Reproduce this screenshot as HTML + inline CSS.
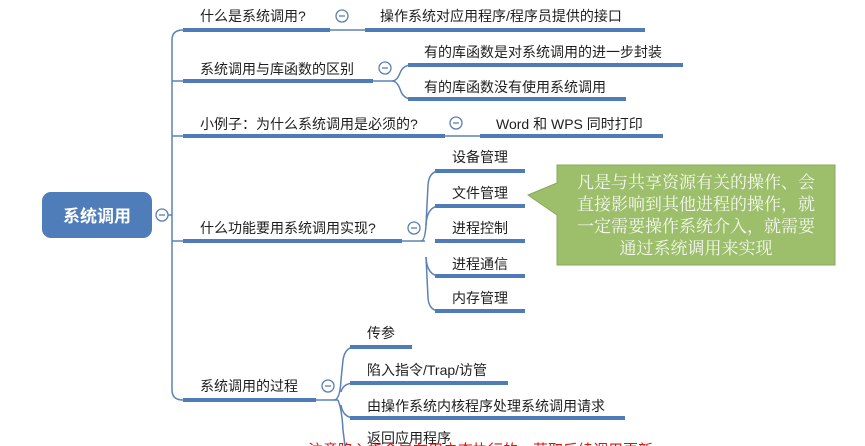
<!DOCTYPE html>
<html><head><meta charset="utf-8"><style>
html,body{margin:0;padding:0;background:#fff;height:446px;overflow:hidden;}
body{width:865px;position:relative;font-family:"Liberation Sans","Noto Sans CJK SC",sans-serif;}
.t{position:absolute;font-size:14px;color:#1e1e1e;white-space:nowrap;line-height:16px;}
</style></head><body>
<svg width="865" height="446" style="position:absolute;left:0;top:0">
<g fill="none" stroke="#5b82b5" stroke-width="1.5">
<path d="M165,215 H172"/>
<path d="M183,30 Q172,30 172,40 V390 Q172,400 183,400"/>
<path d="M172,81 Q172,81 183,81"/>
<path d="M172,136 H183"/>
<path d="M172,241 H183"/>
<path d="M330,30 H365"/>
<path d="M373,81 H392 Q397,81 400,73 Q403,65 412,65"/>
<path d="M392,81 Q397,81 400,89 Q403,99 412,99"/>
<path d="M445,136 H480"/>
<path d="M402,241 H425"/>
<path d="M421,241 Q425,241 426,225 L428,185 Q429,171 440,171"/>
<path d="M426,225 Q427,206 440,206"/>
<path d="M426,257 Q427,276 440,276"/>
<path d="M426,257 L428,298 Q429,311 440,311"/>
<path d="M316,400 H338"/>
<path d="M334,400 Q340,400 341,380 L343,360 Q345,347 355,347"/>
<path d="M341,392 Q343,383 355,383"/>
<path d="M341,405 Q343,418 355,418"/>
<path d="M338,400 Q342,410 343,430 L345,446"/>
</g>
<g stroke="#4f7cb8" stroke-width="4" stroke-linecap="butt">
<line x1="183" y1="30" x2="330" y2="30"/>
<line x1="365" y1="30" x2="645" y2="30"/>
<line x1="183" y1="81" x2="373" y2="81"/>
<line x1="408" y1="65" x2="683" y2="65"/>
<line x1="408" y1="99" x2="626" y2="99"/>
<line x1="183" y1="136" x2="445" y2="136"/>
<line x1="480" y1="136" x2="663" y2="136"/>
<line x1="183" y1="241" x2="402" y2="241"/>
<line x1="435" y1="171" x2="525" y2="171"/>
<line x1="435" y1="206" x2="525" y2="206"/>
<line x1="435" y1="241" x2="525" y2="241"/>
<line x1="435" y1="276" x2="525" y2="276"/>
<line x1="435" y1="311" x2="525" y2="311"/>
<line x1="183" y1="400" x2="316" y2="400"/>
<line x1="350" y1="347" x2="412" y2="347"/>
<line x1="350" y1="383" x2="508" y2="383"/>
<line x1="350" y1="418" x2="625" y2="418"/>
</g>
<g fill="#fff" stroke="#5b7fae" stroke-width="1.3">
<circle cx="162" cy="215" r="6"/>
<circle cx="342" cy="16" r="6"/>
<circle cx="385" cy="68" r="6"/>
<circle cx="456" cy="123" r="6"/>
<circle cx="414" cy="228" r="6"/>
<circle cx="328" cy="386" r="6"/>
</g>
<g stroke="#5b7fae" stroke-width="1.3">
<line x1="159" y1="215" x2="165" y2="215"/>
<line x1="339" y1="16" x2="345" y2="16"/>
<line x1="382" y1="68" x2="388" y2="68"/>
<line x1="453" y1="123" x2="459" y2="123"/>
<line x1="411" y1="228" x2="417" y2="228"/>
<line x1="325" y1="386" x2="331" y2="386"/>
</g>
<rect x="42" y="192" width="110" height="46" rx="9" fill="#4e7db9"/>
<text x="97" y="222" fill="#fff" font-size="17" font-weight="bold" text-anchor="middle" font-family="Liberation Sans, Noto Sans CJK SC, sans-serif">系统调用</text>
<polygon points="557,165 835,165 835,265 557,265 557,215 528,195 557,183" fill="#9dbf6c" stroke="#86a85a" stroke-width="1"/>
</svg>
<div style="position:absolute;left:560px;top:172px;width:272px;text-align:center;font-family:'Liberation Serif','Noto Serif CJK SC',serif;font-size:17px;line-height:22px;color:#f4f8ee;">凡是与共享资源有关的操作、会<br>直接影响到其他进程的操作，就<br>一定需要操作系统介入，就需要<br>通过系统调用来实现</div>
<div class="t" style="left:200px;top:8px">什么是系统调用?</div>
<div class="t" style="left:380px;top:8px">操作系统对应用程序/程序员提供的接口</div>
<div class="t" style="left:200px;top:61px">系统调用与库函数的区别</div>
<div class="t" style="left:424px;top:44px">有的库函数是对系统调用的进一步封装</div>
<div class="t" style="left:424px;top:79px">有的库函数没有使用系统调用</div>
<div class="t" style="left:200px;top:116px">小例子：为什么系统调用是必须的?</div>
<div class="t" style="left:496px;top:116px">Word 和 WPS 同时打印</div>
<div class="t" style="left:200px;top:220px">什么功能要用系统调用实现?</div>
<div class="t" style="left:452px;top:149px">设备管理</div>
<div class="t" style="left:452px;top:185px">文件管理</div>
<div class="t" style="left:452px;top:220px">进程控制</div>
<div class="t" style="left:452px;top:256px">进程通信</div>
<div class="t" style="left:452px;top:290px">内存管理</div>
<div class="t" style="left:200px;top:378px">系统调用的过程</div>
<div class="t" style="left:367px;top:325px">传参</div>
<div class="t" style="left:367px;top:362px">陷入指令/Trap/访管</div>
<div class="t" style="left:367px;top:398px">由操作系统内核程序处理系统调用请求</div>
<div class="t" style="left:367px;top:430px">返回应用程序</div>
<div class="t" style="left:308px;top:443px;color:#e01010;font-size:15px">注意陷入指令是在用户态执行的，获取后续调用更新</div>
</body></html>
